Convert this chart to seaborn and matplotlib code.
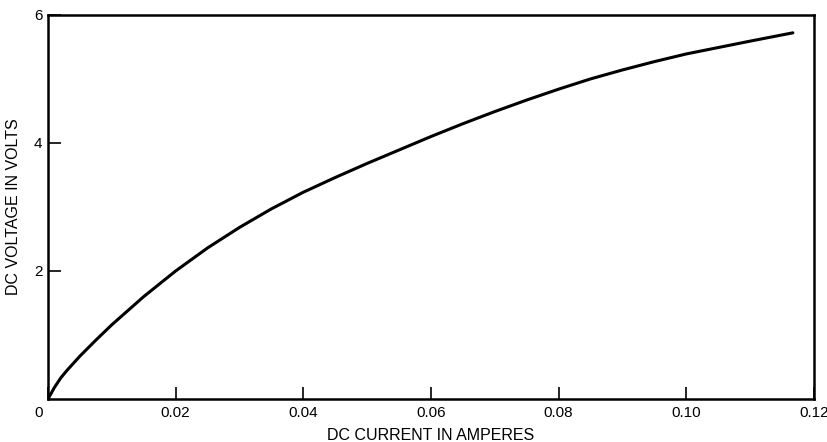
import matplotlib
matplotlib.use("Agg")
import matplotlib.pyplot as plt
import matplotlib.transforms as mtransforms
import seaborn as sns
import pandas as pd

# DC voltage vs DC current characteristic
current_a = [0.0, 0.001, 0.002, 0.003, 0.005, 0.0075, 0.01, 0.015, 0.02,
             0.025, 0.03, 0.035, 0.04, 0.045, 0.05, 0.055, 0.06, 0.065,
             0.07, 0.075, 0.08, 0.085, 0.09, 0.095, 0.10, 0.105, 0.11,
             0.1167]
voltage_v = [0.0, 0.18, 0.33, 0.45, 0.67, 0.92, 1.16, 1.60, 2.00,
             2.36, 2.68, 2.97, 3.23, 3.46, 3.68, 3.89, 4.10, 4.30,
             4.49, 4.67, 4.84, 5.00, 5.14, 5.27, 5.39, 5.49, 5.59,
             5.72]

x_ticks = [0.0, 0.02, 0.04, 0.06, 0.08, 0.10, 0.12]
x_tick_labels = ["0", "0.02", "0.04", "0.06", "0.08", "0.10", "0.12"]
y_ticks = [2, 4, 6]
y_tick_labels = ["2", "4", "6"]

df = pd.DataFrame({"current": current_a, "voltage": voltage_v})

sns.set_theme(style="white")
plt.rcParams["font.family"] = ["Liberation Sans", "DejaVu Sans"]

fig = plt.figure(figsize=(8.28, 4.42), dpi=100)
ax = fig.add_axes([0.058, 0.0973, 0.925, 0.869])

sns.lineplot(data=df, x="current", y="voltage", ax=ax, color="black",
             linewidth=2.2, estimator=None, sort=False)

ax.set_xlim(0, 0.12)
ax.set_ylim(0, 6)
ax.set_xticks(x_ticks)
ax.set_xticklabels(x_tick_labels)
ax.set_yticks(y_ticks)
ax.set_yticklabels(y_tick_labels)

for s in ax.spines.values():
    s.set_color("black")
    s.set_linewidth(1.8)

ax.tick_params(axis="both", which="major", bottom=True, left=True,
               direction="in", length=9, width=1.2, colors="black",
               labelsize=11, pad=5)
ax.tick_params(axis="y", pad=4)

# nudge the shared origin label "0" left of the corner
zero_label = ax.get_xticklabels()[0]
zero_label.set_transform(zero_label.get_transform() +
                         mtransforms.ScaledTranslation(-9 / 100, 0, fig.dpi_scale_trans))

ax.set_xlabel("DC CURRENT IN AMPERES", fontsize=11.5, color="black", labelpad=6)
ax.set_ylabel("DC VOLTAGE IN VOLTS", fontsize=11.5, color="black", labelpad=9)

fig.savefig("out.png", dpi=100, facecolor="white")
